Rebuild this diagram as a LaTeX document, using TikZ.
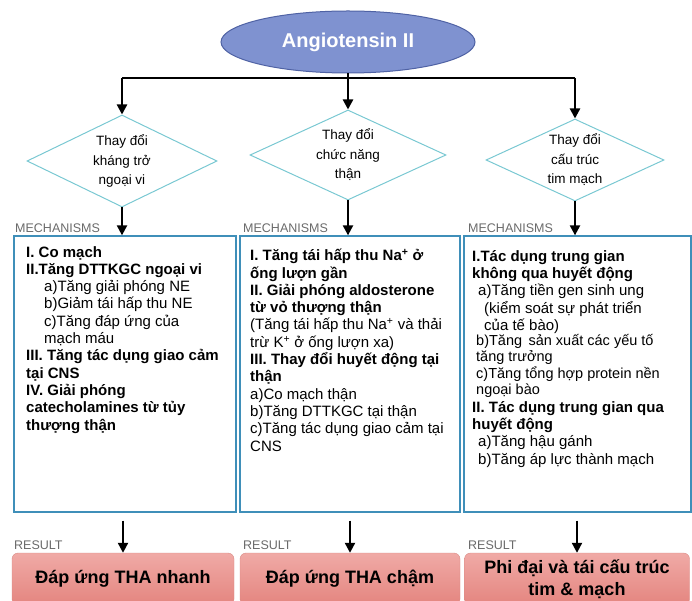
\documentclass[tikz,border=0pt]{standalone}
\usepackage{fontspec}
\setmainfont{Liberation Sans}
\usepackage{tikz}
\usetikzlibrary{shapes.geometric,arrows.meta}
\definecolor{angfill}{HTML}{7F92D0}
\definecolor{angdraw}{HTML}{4F62A4}
\definecolor{diamc}{HTML}{79C8D2}
\definecolor{boxc}{HTML}{3F8FB9}
\definecolor{tagc}{HTML}{6A6A6A}
\definecolor{restop}{HTML}{F0AAA6}
\definecolor{resbot}{HTML}{E4857F}
\definecolor{resdraw}{HTML}{D98B86}
\newcommand{\mechfont}{\fontsize{15}{17.3}\selectfont\lineskiplimit=-30pt\relax}
\newcommand{\mechsmall}{\fontsize{14.5}{16.4}\selectfont\lineskiplimit=-30pt\relax}
\tikzset{
  arr/.style={-{Triangle[length=10pt,width=10pt]}, line width=2.2pt, black},
  bar/.style={line width=2.2pt, black},
  angio/.style={ellipse, draw=angdraw, line width=1pt, fill=angfill, text=white,
    font=\bfseries\fontsize{20}{24}\selectfont, minimum width=254pt, minimum height=62pt},
  decide/.style={diamond, draw=diamc, line width=1pt, shape aspect=2, inner sep=0pt,
    align=center, font=\fontsize{13.5}{19.5}\selectfont},
  mechbox/.style={draw=boxc, line width=1.3pt, minimum height=276pt},
  mechtext/.style={anchor=north west, inner sep=0pt, align=left, font=\mechfont},
  mechnote/.style={anchor=north west, inner sep=0pt, align=left, font=\mechsmall},
  tag/.style={anchor=west, inner sep=0pt, text=tagc, font=\fontsize{12.5}{14}\selectfont},
  result/.style={rounded corners=6pt, draw=resdraw, top color=restop, bottom color=resbot,
    minimum height=52pt, align=center, font=\bfseries\fontsize{18}{22}\selectfont}
}

\begin{document}
\begin{tikzpicture}[x=1pt,y=-1pt]
  \useasboundingbox (0,0) rectangle (692,601);
  \node[angio] (ang) at (348,42) {Angiotensin II};
  \coordinate (bar) at (348,78);
  \coordinate (barL) at (122,78);
  \coordinate (barR) at (575,78);
  \draw[bar] (ang.south) -- (bar);
  \draw[bar] (barL) -- (barR);

  \node[decide, minimum width=190pt, minimum height=92pt] (dL) at (122,161) {Thay đổi\\kháng trở\\ngoại vi};
  \node[decide, minimum width=196pt, minimum height=90pt] (dM) at (348,155) {Thay đổi\\chức năng\\thận};
  \node[decide, minimum width=178pt, minimum height=82pt] (dR) at (575,160) {Thay đổi\\cấu trúc\\tim mạch};
  \draw[arr] (barL) -- (dL.north);
  \draw[arr] (bar) -- (dM.north);
  \draw[arr] (barR) -- (dR.north);

  \node[mechbox, minimum width=222pt] (mL) at (125,374) {};
  \node[mechbox, minimum width=220pt] (mM) at (350,374) {};
  \node[mechbox, minimum width=227pt] (mR) at (577.5,374) {};
  \draw[arr] (dL.south) -- (dL.south |- mL.north);
  \draw[arr] (dM.south) -- (dM.south |- mM.north);
  \draw[arr] (dR.south) -- (dR.south |- mR.north);
  \node[tag] (kL) at (15,228) {MECHANISMS};
  \node[tag] (kM) at (243,228) {MECHANISMS};
  \node[tag] (kR) at (468,228) {MECHANISMS};

  \node[mechtext] (tL) at (26,246) {\textbf{I. Co mạch}\\
    \textbf{II.Tăng DTTKGC ngoại vi}\\
    \hspace*{18pt}a)Tăng giải phóng NE\\
    \hspace*{18pt}b)Giảm tái hấp thu NE\\
    \hspace*{18pt}c)Tăng đáp ứng của\\
    \hspace*{18pt}mạch máu\\
    \textbf{III. Tăng tác dụng giao cảm}\\
    \textbf{tại CNS}\\
    \textbf{IV. Giải phóng}\\
    \textbf{catecholamines từ tủy}\\
    \textbf{thượng thận}};
  \node[mechtext] (tM) at (250,249) {\textbf{I. Tăng tái hấp thu Na\textsuperscript{+} ở}\\
    \textbf{ống lượn gần}\\
    \textbf{II. Giải phóng aldosterone}\\
    \textbf{từ vỏ thượng thận}\\
    (Tăng tái hấp thu Na\textsuperscript{+} và thải\\
    trừ K\textsuperscript{+} ở ống lượn xa)\\
    \textbf{III. Thay đổi huyết động tại}\\
    \textbf{thận}\\
    a)Co mạch thận\\
    b)Tăng DTTKGC tại thận\\
    c)Tăng tác dụng giao cảm tại\\
    CNS};
  \node[mechtext] (tR) at (472,250) {\textbf{I.Tác dụng trung gian}\\
    \textbf{không qua huyết động}\\
    \hspace*{6pt}a)Tăng tiền gen sinh ung\\
    \hspace*{12pt}(kiểm soát sự phát triển\\
    \hspace*{12pt}của tế bào)};
  \node[mechnote] (tR2) at (476,334) {b)Tăng\, sản xuất các yếu tố\\
    tăng trưởng\\
    c)Tăng tổng hợp protein nền\\
    ngoại bào};
  \node[mechtext] (tR3) at (472,401) {\textbf{II. Tác dụng trung gian qua}\\
    \textbf{huyết động}\\
    \hspace*{6pt}a)Tăng hậu gánh\\
    \hspace*{6pt}b)Tăng áp lực thành mạch};

  \node[result, minimum width=222pt] (rL) at (123,579) {Đáp ứng THA nhanh};
  \node[result, minimum width=220pt] (rM) at (350,579) {Đáp ứng THA chậm};
  \node[result, minimum width=225pt] (rR) at (577,579) {Phi đại và tái cấu trúc\\tim \& mạch};
  \draw[arr] ([yshift=-8pt]mL.south -| rL.north) -- (rL.north);
  \draw[arr] ([yshift=-8pt]mM.south) -- (mM.south |- rM.north);
  \draw[arr] ([yshift=-8pt]mR.south -| rR.north) -- (rR.north);
  \node[tag] (sL) at (14,545) {RESULT};
  \node[tag] (sM) at (243,545) {RESULT};
  \node[tag] (sR) at (468,545) {RESULT};
\end{tikzpicture}
\end{document}
